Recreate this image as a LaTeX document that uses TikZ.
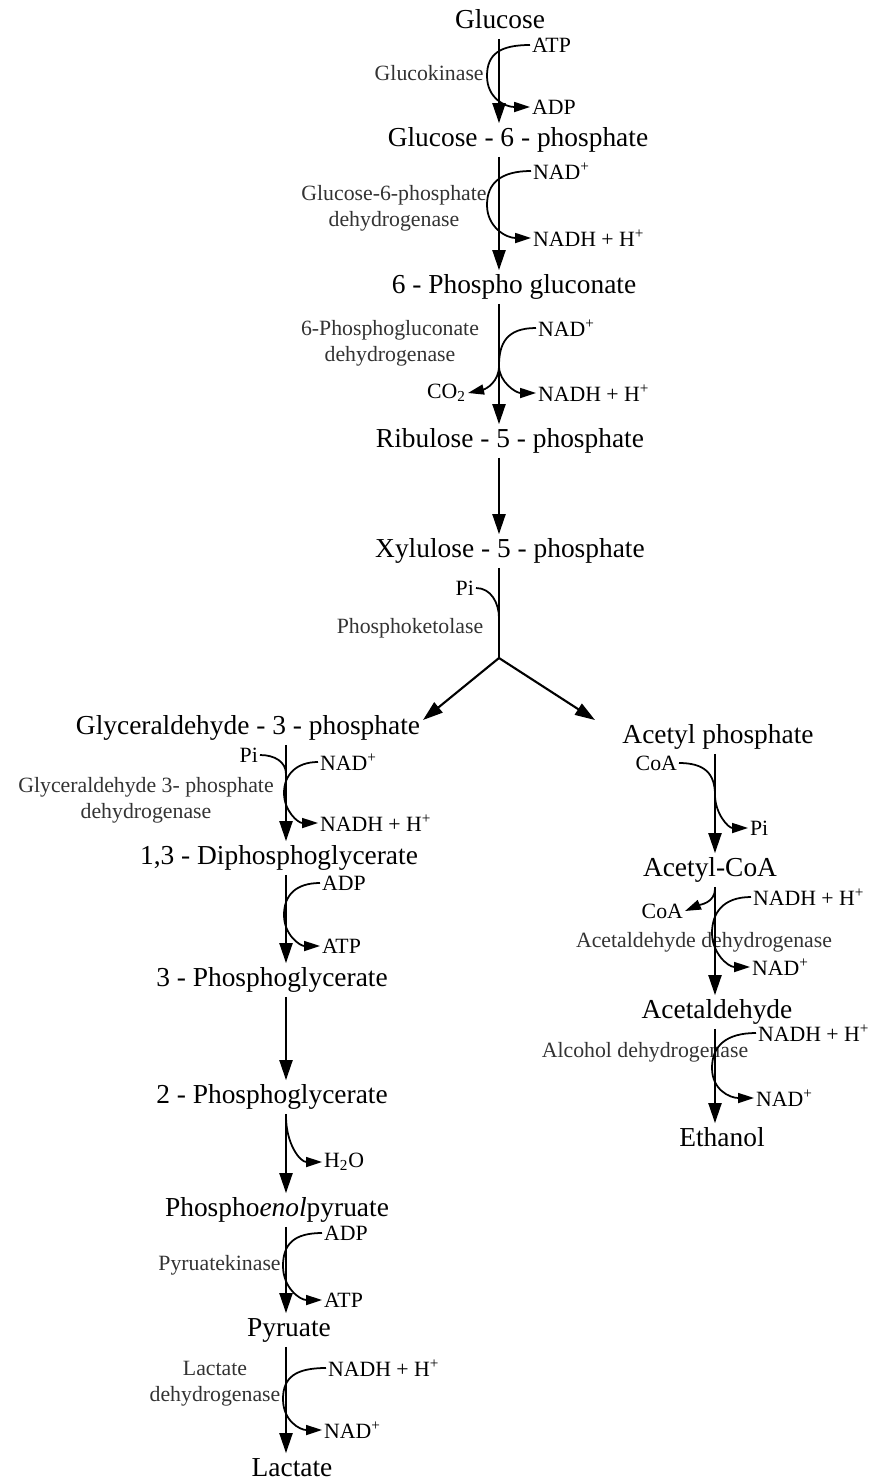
\documentclass[tikz,border=0pt]{standalone}
\usepackage{fontspec}
\setmainfont{Liberation Serif}
\usetikzlibrary{arrows.meta}

\tikzset{
  metab/.style={font=\fontsize{15.6}{18}\selectfont, inner sep=0pt,
    text height=0.85em, text depth=0.07em, minimum height=6.6mm},
  enzyme/.style={font=\fontsize{12.4}{14.6}\selectfont, text=black!80,
    align=center, inner sep=0pt},
  cofac/.style={font=\fontsize{12.4}{14.6}\selectfont, inner sep=1pt},
  rxn/.style={line width=1.2pt, -{Triangle[length=4mm,width=2.6mm]}},
  side/.style={line width=1pt, -{Triangle[length=3.2mm,width=2mm]}},
  joinline/.style={line width=1pt},
}

\begin{document}
\begin{tikzpicture}[x=0.2mm,y=-0.2mm]%
   \useasboundingbox (0,0) rectangle (874,1482);
   % the three columns
   \coordinate (mid) at (499,0);
   \coordinate (lft) at (286,0);
   \coordinate (rgt) at (715,0);

   % metabolites
   \node[metab] (glc)   at (500,22)   {Glucose};
   \node[metab] (g6p)   at (518,140)  {Glucose - 6 - phosphate};
   \node[metab] (pgn)   at (514,287)  {6 - Phospho gluconate};
   \node[metab] (ru5p)  at (510,441)  {Ribulose - 5 - phosphate};
   \node[metab] (xu5p)  at (510,551)  {Xylulose - 5 - phosphate};
   \node[metab] (gap)   at (248,728)  {Glyceraldehyde - 3 - phosphate};
   \node[metab] (bpg)   at (279,858)  {1,3 - Diphosphoglycerate};
   \node[metab] (pg3)   at (272,980)  {3 - Phosphoglycerate};
   \node[metab] (pg2)   at (272,1097) {2 - Phosphoglycerate};
   \node[metab] (pep)   at (277,1210) {Phospho\textit{enol}pyruate};
   \node[metab] (pyr)   at (289,1330) {Pyruate};
   \node[metab] (lac)   at (292,1470) {Lactate};
   \node[metab] (acp)   at (718,737)  {Acetyl phosphate};
   \node[metab] (acoa)  at (710,870)  {Acetyl-CoA};
   \node[metab] (acald) at (717,1012) {Acetaldehyde};
   \node[metab] (etoh)  at (722,1140) {Ethanol};

   % glucose -> glucose-6-phosphate
   \node[enzyme,anchor=east] (gk) at (484,73) {Glucokinase};
   \node[cofac,anchor=west] (atp1) at (530,45) {ATP};
   \node[cofac,anchor=west] (adp1) at (530,107) {ADP};
   \coordinate (k1) at (487,76);
   \draw[rxn] (glc.south -| mid) -- (g6p.north -| mid);
   \draw[side] (atp1.west) .. controls +(-30,0) and +(0,-22) .. (k1)
      .. controls +(0,22) and +(-25,0) .. (adp1.west);

   % glucose-6-phosphate -> 6-phosphogluconate
   \node[enzyme] (g6pdh) at (394,208) {Glucose-6-phosphate\\dehydrogenase};
   \node[cofac,anchor=west] (nad2) at (531,171) {NAD\textsuperscript{+}};
   \node[cofac,anchor=west] (nadh2) at (531,238) {NADH + H\textsuperscript{+}};
   \coordinate (k2) at (487,205);
   \draw[rxn] (g6p.south -| mid) -- (pgn.north -| mid);
   \draw[side] (nad2.west) .. controls +(-30,0) and +(0,-22) .. (k2)
      .. controls +(0,22) and +(-25,0) .. (nadh2.west);

   % 6-phosphogluconate -> ribulose-5-phosphate
   \node[enzyme] (pgdh) at (390,343) {6-Phosphogluconate\\dehydrogenase};
   \node[cofac,anchor=west] (nad3) at (536,328) {NAD\textsuperscript{+}};
   \node[cofac,anchor=west] (nadh3) at (536,393) {NADH + H\textsuperscript{+}};
   \node[cofac,anchor=east] (co2) at (468,393) {CO\textsubscript{2}};
   \coordinate (j3) at (499,366);
   \draw[rxn] (pgn.south -| mid) -- (ru5p.north -| mid);
   \draw[joinline] (nad3.west) .. controls +(-30,0) and +(0,-22) .. (j3);
   \draw[side] (j3) .. controls +(0,16) and +(18,-4) .. (co2.east);
   \draw[side] (j3) .. controls +(0,16) and +(-20,0) .. (nadh3.west);

   % ribulose-5-phosphate -> xylulose-5-phosphate
   \draw[rxn] (ru5p.south -| mid) -- (xu5p.north -| mid);

   % phosphoketolase split
   \node[enzyme] (pkl) at (410,628) {Phosphoketolase};
   \node[cofac,anchor=east] (pi5) at (476,588) {Pi};
   \coordinate (k5) at (499,618);
   \coordinate (split) at (499,658);
   \coordinate (toGAP) at (423,720);
   \coordinate (toACP) at (595,720);
   \draw[line width=1.2pt] (xu5p.south -| mid) -- (split);
   \draw[joinline] (pi5.east) .. controls +(15,0) and +(0,-15) .. (k5);
   \draw[rxn] (split) -- (toGAP);
   \draw[rxn] (split) -- (toACP);

   % glyceraldehyde-3-phosphate -> 1,3-diphosphoglycerate
   \node[enzyme] (gapdh) at (146,800) {Glyceraldehyde 3- phosphate\\dehydrogenase};
   \node[cofac,anchor=east] (pi6) at (260,755) {Pi};
   \node[cofac,anchor=west] (nad6) at (318,762) {NAD\textsuperscript{+}};
   \node[cofac,anchor=west] (nadh6) at (318,823) {NADH + H\textsuperscript{+}};
   \coordinate (k6a) at (286,774);
   \coordinate (k6) at (284,793);
   \draw[rxn] (gap.south -| lft) -- (bpg.north -| lft);
   \draw[joinline] (pi6.east) .. controls +(15,0) and +(0,-12) .. (k6a);
   \draw[side] (nad6.west) .. controls +(-22,0) and +(0,-18) .. (k6)
      .. controls +(0,18) and +(-20,0) .. (nadh6.west);

   % 1,3-diphosphoglycerate -> 3-phosphoglycerate
   \node[cofac,anchor=west] (adp7) at (320,883) {ADP};
   \node[cofac,anchor=west] (atp7) at (320,946) {ATP};
   \coordinate (k7) at (284,915);
   \draw[rxn] (bpg.south -| lft) -- (pg3.north -| lft);
   \draw[side] (adp7.west) .. controls +(-24,0) and +(0,-20) .. (k7)
      .. controls +(0,20) and +(-20,0) .. (atp7.west);

   % 3-phosphoglycerate -> 2-phosphoglycerate
   \draw[rxn] (pg3.south -| lft) -- (pg2.north -| lft);

   % 2-phosphoglycerate -> phosphoenolpyruate
   \node[cofac,anchor=west] (h2o) at (322,1162) {H\textsubscript{2}O};
   \coordinate (k9) at (286,1116);
   \draw[rxn] (pg2.south -| lft) -- (pep.north -| lft);
   \draw[side] (k9) .. controls +(0,28) and +(-22,0) .. (h2o.west);

   % phosphoenolpyruate -> pyruate
   \node[enzyme,anchor=east] (pk) at (281,1265) {Pyruatekinase};
   \node[cofac,anchor=west] (adp10) at (322,1233) {ADP};
   \node[cofac,anchor=west] (atp10) at (322,1300) {ATP};
   \coordinate (k10) at (283,1266);
   \draw[rxn] (pep.south -| lft) -- (pyr.north -| lft);
   \draw[side] (adp10.west) .. controls +(-28,0) and +(0,-22) .. (k10)
      .. controls +(0,22) and +(-22,0) .. (atp10.west);

   % pyruate -> lactate
   \node[enzyme] (ldh) at (215,1384) {Lactate\\dehydrogenase};
   \node[cofac,anchor=west] (nadh11) at (326,1368) {NADH + H\textsuperscript{+}};
   \node[cofac,anchor=west] (nad11) at (322,1430) {NAD\textsuperscript{+}};
   \coordinate (k11) at (283,1399);
   \draw[rxn] (pyr.south -| lft) -- (lac.north -| lft);
   \draw[side] (nadh11.west) .. controls +(-30,0) and +(0,-22) .. (k11)
      .. controls +(0,22) and +(-22,0) .. (nad11.west);

   % acetyl phosphate -> acetyl-CoA
   \node[cofac,anchor=east] (coa1) at (679,763) {CoA};
   \node[cofac,anchor=west] (pi12) at (748,828) {Pi};
   \coordinate (k12) at (715,795);
   \draw[rxn] (acp.south -| rgt) -- (acoa.north -| rgt);
   \draw[side] (coa1.east) .. controls +(25,0) and +(0,-22) .. (k12)
      .. controls +(0,18) and +(-20,0) .. (pi12.west);

   % acetyl-CoA -> acetaldehyde
   \node[enzyme] (acdh) at (704,942) {Acetaldehyde dehydrogenase};
   \node[cofac,anchor=east] (coa2) at (685,911) {CoA};
   \node[cofac,anchor=west] (nadh13) at (751,897) {NADH + H\textsuperscript{+}};
   \node[cofac,anchor=west] (nad13) at (750,967) {NAD\textsuperscript{+}};
   \coordinate (k13a) at (715,889);
   \coordinate (k13) at (712,933);
   \draw[rxn] (acoa.south -| rgt) -- (acald.north -| rgt);
   \draw[side] (k13a) .. controls +(0,14) and +(14,-6) .. (coa2.east);
   \draw[side] (nadh13.west) .. controls +(-28,0) and +(0,-20) .. (k13)
      .. controls +(0,20) and +(-22,0) .. (nad13.west);

   % acetaldehyde -> ethanol
   \node[enzyme] (adh) at (645,1052) {Alcohol dehydrogenase};
   \node[cofac,anchor=west] (nadh14) at (756,1033) {NADH + H\textsuperscript{+}};
   \node[cofac,anchor=west] (nad14) at (754,1098) {NAD\textsuperscript{+}};
   \coordinate (k14) at (712,1068);
   \draw[rxn] (acald.south -| rgt) -- (etoh.north -| rgt);
   \draw[side] (nadh14.west) .. controls +(-30,0) and +(0,-22) .. (k14)
      .. controls +(0,22) and +(-24,0) .. (nad14.west);
\end{tikzpicture}
\end{document}
